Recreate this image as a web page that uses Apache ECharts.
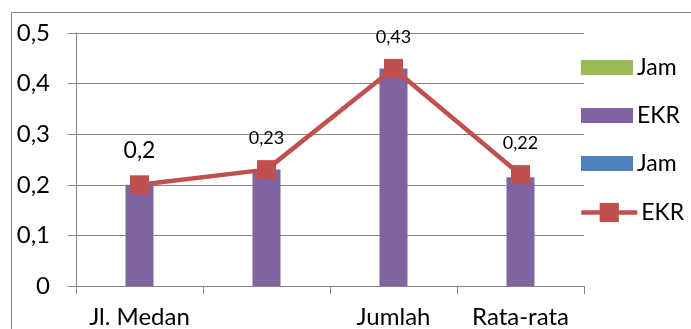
<!DOCTYPE html>
<html>
<head>
<meta charset="utf-8">
<script src="https://cdn.jsdelivr.net/npm/echarts@6/dist/echarts.min.js"></script>
<style>
  html, body { margin: 0; padding: 0; background: #ffffff; }
  #chart { width: 691px; height: 329px; }
</style>
</head>
<body>
<div id="chart"></div>
<script>
// Categories along the x axis
const categories = ['Jl. Medan', '', 'Jumlah', 'Rata-rata'];
// EKR bar heights
const ekrBars = [0.2, 0.23, 0.43, 0.215];
// EKR line values (labelled)
const ekrLine = [0.2, 0.23, 0.43, 0.22];
// Jam series carry no plotted values
const jamA = [null, null, null, null];
const jamB = [null, null, null, null];
// Label font sizes per point
const labelSizes = [23, 18, 18, 18];

const FONT = 'Lato, "Liberation Sans", sans-serif';
const GRAY = '#868686';
const comma = v => String(v).replace('.', ',');

const legendText = { fontFamily: FONT, fontSize: 23, color: '#000', padding: [0, 0, 0, -1] };

const chart = echarts.init(document.getElementById('chart'));
chart.setOption({
  animation: false,
  textStyle: { fontFamily: FONT, color: '#000' },
  graphic: [{
    type: 'rect',
    shape: { x: 11.5, y: 12.5, width: 720, height: 340 },
    style: { fill: 'none', stroke: GRAY, lineWidth: 1 },
    silent: true
  }],
  grid: { left: 76, right: 107, top: 33, bottom: 40 },
  legend: [{
    orient: 'vertical',
    left: 576,
    top: 51,
    itemWidth: 52,
    itemHeight: 15,
    itemGap: 25,
    textStyle: legendText,
    data: [
      { name: 'Jam', icon: 'rect' },
      { name: 'EKR', icon: 'rect' },
      { name: 'Jam ', icon: 'rect' }
    ],
    formatter: n => n.trim()
  }, {
    orient: 'vertical',
    left: 574,
    top: 196,
    itemWidth: 56,
    itemHeight: 24,
    lineStyle: { width: 4.5, color: '#C0504D' },
    textStyle: legendText,
    data: ['EKR '],
    formatter: n => n.trim()
  }],
  xAxis: {
    type: 'category',
    data: categories,
    axisLine: { lineStyle: { color: GRAY, width: 1 } },
    axisTick: { show: true, length: 8, lineStyle: { color: GRAY } },
    axisLabel: { fontFamily: FONT, fontSize: 24, color: '#000', margin: 19, interval: 0 }
  },
  yAxis: {
    type: 'value',
    min: 0,
    max: 0.5,
    interval: 0.1,
    axisLine: { show: true, lineStyle: { color: GRAY, width: 1 } },
    axisTick: { show: true, length: 8, lineStyle: { color: GRAY } },
    splitLine: { lineStyle: { color: GRAY, width: 1 } },
    axisLabel: {
      fontFamily: FONT, fontSize: 24, color: '#000', margin: 26,
      formatter: v => comma(Math.round(v * 10) / 10)
    }
  },
  series: [
    { name: 'Jam', type: 'bar', data: jamA, barWidth: 28, barGap: '-100%', itemStyle: { color: '#9BBB59' } },
    { name: 'EKR', type: 'bar', data: ekrBars, barWidth: 28, barGap: '-100%', itemStyle: { color: '#8064A2' } },
    { name: 'Jam ', type: 'bar', data: jamB, barWidth: 28, barGap: '-100%', itemStyle: { color: '#4F81BD' } },
    {
      name: 'EKR ',
      type: 'line',
      data: ekrLine.map((v, i) => ({
        value: v,
        label: { fontSize: labelSizes[i] }
      })),
      symbol: 'rect',
      symbolSize: 19,
      lineStyle: { color: '#C0504D', width: 4.5 },
      itemStyle: { color: '#C0504D' },
      label: {
        show: true,
        position: 'top',
        distance: 13,
        fontFamily: FONT,
        color: '#000',
        formatter: p => comma(p.value)
      },
      z: 5
    }
  ]
});
</script>
</body>
</html>
